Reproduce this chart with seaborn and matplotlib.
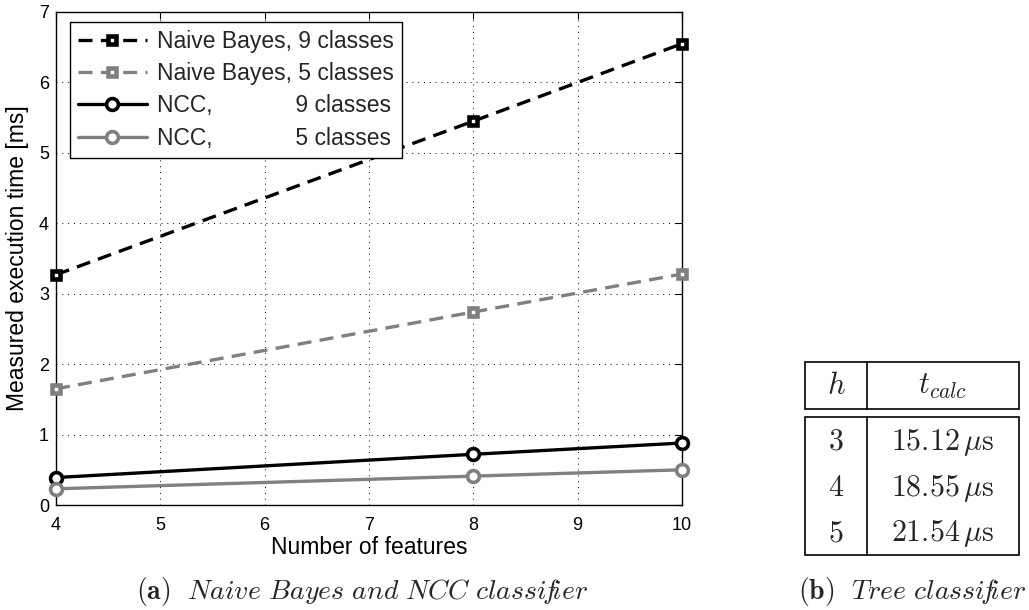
import matplotlib
matplotlib.use("Agg")
import matplotlib.pyplot as plt
import seaborn as sns
import pandas as pd
from matplotlib.patches import Rectangle

# Execution times of the classifiers on the target
features = [4, 8, 10]
nb_9_classes = [3.27, 5.45, 6.55]
nb_5_classes = [1.65, 2.74, 3.28]
ncc_9_classes = [0.39, 0.72, 0.88]
ncc_5_classes = [0.23, 0.41, 0.50]

series_labels = [
    "Naive Bayes, 9 classes",
    "Naive Bayes, 5 classes",
    "NCC,             9 classes",
    "NCC,             5 classes",
]

# Tree classifier: depth vs. calculation time in microseconds
tree_depth = [3, 4, 5]
tree_tcalc_us = [15.12, 18.55, 21.54]

x_ticks = [4, 5, 6, 7, 8, 9, 10]
y_ticks = [0, 1, 2, 3, 4, 5, 6, 7]

sns.set_theme(style="white")
plt.rcParams["font.family"] = ["Liberation Sans", "DejaVu Sans"]
plt.rcParams["mathtext.fontset"] = "cm"

W, H = 1029, 610
fig = plt.figure(figsize=(W / 100, H / 100), dpi=100)
fig.patch.set_facecolor("white")

ax_l, ax_r, ax_t, ax_b = 56, 682, 12, 505
ax = fig.add_axes([ax_l / W, (H - ax_b) / H, (ax_r - ax_l) / W, (ax_b - ax_t) / H])
ax.set_facecolor("white")

gray = (0.5, 0.5, 0.5)
dash = (0, (4.2, 2.5))
styles = [
    (nb_9_classes, "black", dash, "s", 6.3, 3.3),
    (nb_5_classes, gray, dash, "s", 6.3, 3.3),
    (ncc_9_classes, "black", "-", "o", 8.5, 2.6),
    (ncc_5_classes, gray, "-", "o", 8.5, 2.6),
]

for (vals, color, ls, mk, ms, mew), label in zip(styles, series_labels):
    df = pd.DataFrame({"features": features, "time": vals})
    sns.lineplot(
        data=df, x="features", y="time", ax=ax,
        color=color, linestyle=ls, linewidth=2.4,
        marker=mk, markersize=ms, markerfacecolor="white",
        markeredgecolor=color, markeredgewidth=mew,
        label=label, zorder=3, clip_on=False,
    )

ax.set_xlim(4, 10)
ax.set_ylim(0, 7)
ax.set_xticks(x_ticks)
ax.set_yticks(y_ticks)
ax.grid(True, color="black", linestyle=(0, (1, 5)), linewidth=0.7)
ax.tick_params(direction="in", length=5, width=0.8, top=True, right=True,
               labelsize=13, colors="black")
ax.tick_params(axis="x", pad=9)
ax.tick_params(axis="y", pad=5)
for sp in ax.spines.values():
    sp.set_color("black")
    sp.set_linewidth(1.0)

ax.set_xlabel("Number of features", fontsize=16.5, color="black", labelpad=1)
ax.set_ylabel("Measured execution time [ms]", fontsize=16.5, color="black", labelpad=7)

leg = ax.legend(
    loc="upper left", bbox_to_anchor=(14 / (ax_r - ax_l), 1 - 10 / (ax_b - ax_t)),
    fontsize=16.5, frameon=True, fancybox=False, framealpha=1,
    edgecolor="black", handlelength=3.0, handletextpad=0.45,
    labelspacing=0.4, borderpad=0.35, borderaxespad=0,
)
leg.get_frame().set_linewidth(1.0)

# Table for the tree classifier, drawn on an overlay in pixel units
tax = fig.add_axes([0, 0, 1, 1])
tax.set_xlim(0, W)
tax.set_ylim(H, 0)
tax.axis("off")

tx0, tx1, tsep = 805, 1019, 867
tax.add_patch(Rectangle((tx0, 362), tx1 - tx0, 47, fill=False, lw=1.2, ec="black"))
tax.add_patch(Rectangle((tx0, 417), tx1 - tx0, 138, fill=False, lw=1.2, ec="black"))
tax.plot([tsep, tsep], [362, 409], color="black", lw=1.2)
tax.plot([tsep, tsep], [417, 555], color="black", lw=1.2)

col1 = (tx0 + tsep) / 2
col2 = (tsep + tx1) / 2
tax.text(col1, 386, r"$h$", ha="center", va="center", fontsize=22)
tax.text(col2, 386, r"$t_{calc}$", ha="center", va="center", fontsize=22)
for i, (d, t) in enumerate(zip(tree_depth, tree_tcalc_us)):
    y = 442 + i * 45.5
    tax.text(col1, y, rf"${d}$", ha="center", va="center", fontsize=21.5)
    tax.text(col2, y, rf"${t:.2f}\,\mu\mathrm{{s}}$", ha="center", va="center", fontsize=21.5)

# Sub-captions
tax.text(362, 592,
         r"$\mathbf{(a)}\ \ \mathit{Naive\ Bayes\ and\ NCC\ classi\!f\!ier}$",
         ha="center", va="center", fontsize=20)
tax.text(912, 592, r"$\mathbf{(b)}\ \ \mathit{Tree\ classi\!f\!ier}$",
         ha="center", va="center", fontsize=20)

fig.savefig("out.png", dpi=100, facecolor="white")
